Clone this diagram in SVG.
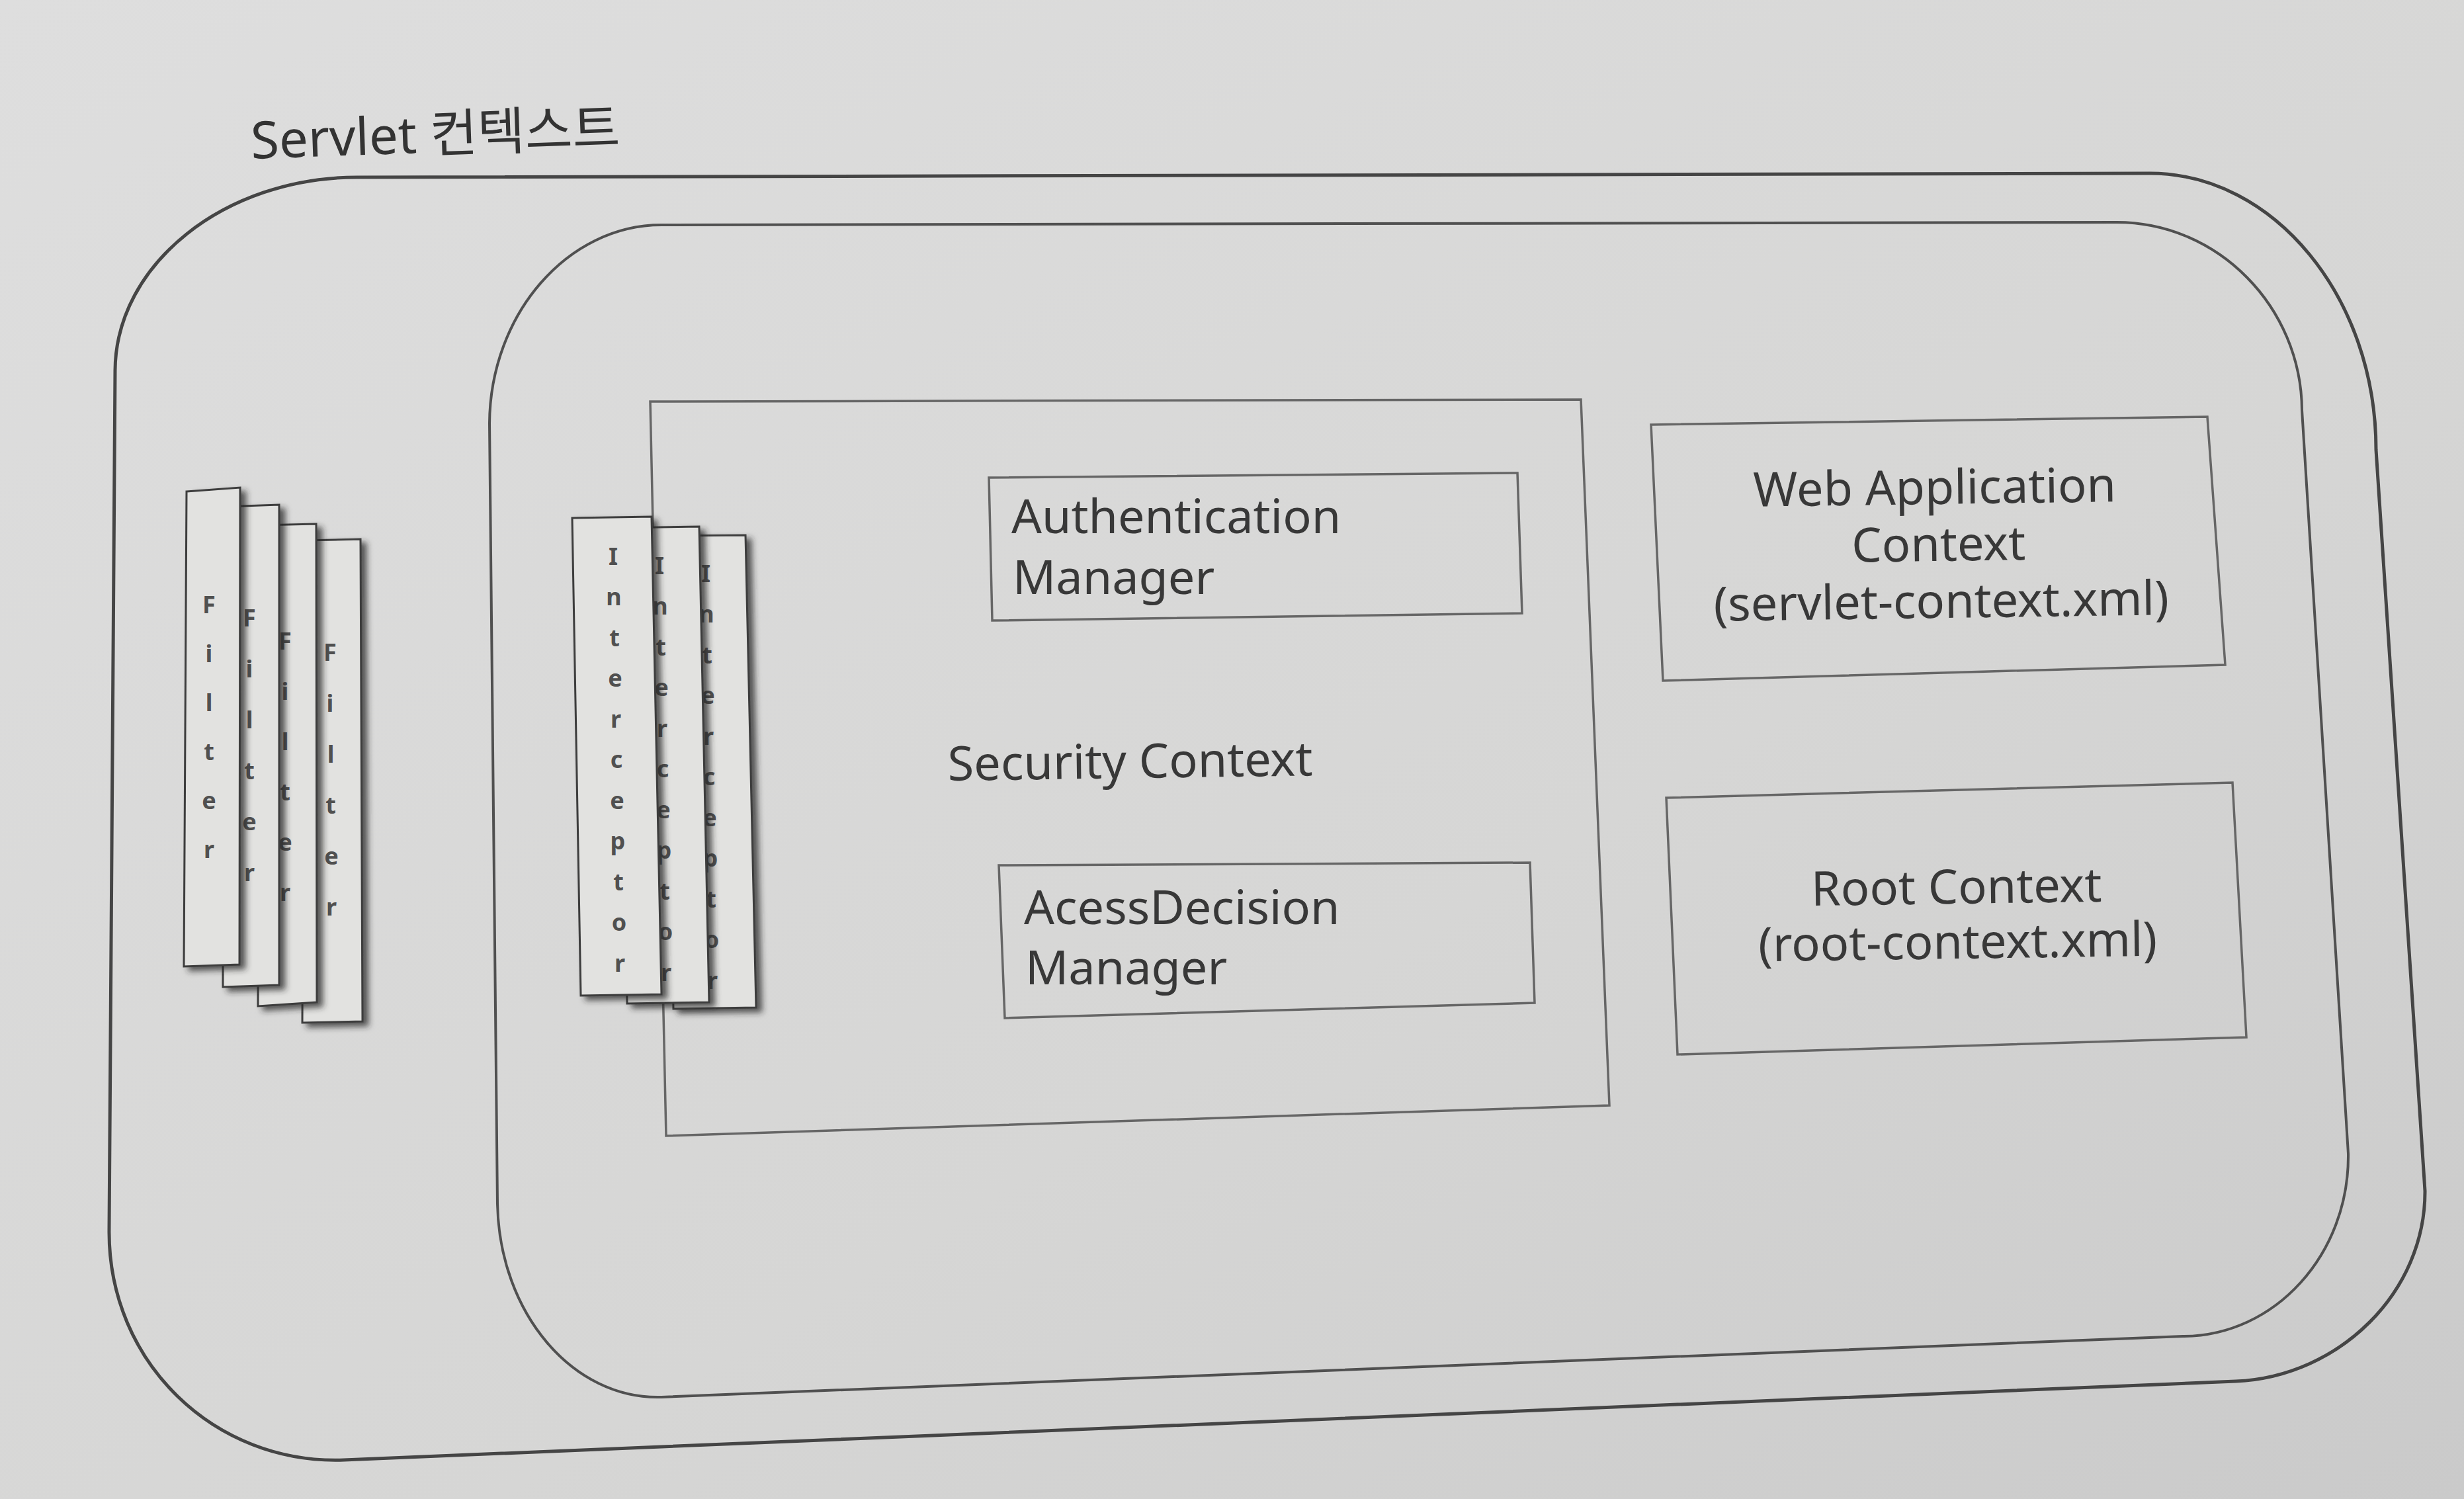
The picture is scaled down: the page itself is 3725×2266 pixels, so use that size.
<svg xmlns="http://www.w3.org/2000/svg" width="3725" height="2266" viewBox="0 0 3725 2266">
<defs>
<linearGradient id="paper" x1="0" y1="0" x2="1" y2="1">
<stop offset="0" stop-color="#dedede"/>
<stop offset="0.6" stop-color="#d6d6d5"/>
<stop offset="1" stop-color="#cacaca"/>
</linearGradient>
<filter id="shadow" x="-30%" y="-5%" width="170%" height="115%">
<feDropShadow dx="8" dy="6" stdDeviation="5" flood-color="#2a2a2a" flood-opacity="0.75"/>
</filter>
<style>
.big{fill:none;stroke:#454545;stroke-width:5}
.mid{fill:none;stroke:#505050;stroke-width:4}
.box{fill:none;stroke:#666;stroke-width:3.5}
.label{font-family:"Noto Sans","Noto Sans CJK KR",sans-serif;font-size:72px;fill:#383838}
.title{font-family:"Noto Sans","Noto Sans CJK KR",sans-serif;font-size:78px;fill:#333}
.strip{fill:#e2e2e0;stroke:#3c3c3c;stroke-width:3;filter:url(#shadow)}
.letter{font-family:"Noto Sans",sans-serif;font-size:36px;font-weight:bold;fill:#505050;text-anchor:middle}
.mid-text{text-anchor:middle}
</style>
</defs>
<rect x="0" y="0" width="3725" height="2266" fill="url(#paper)"/>

<g id="servlet-context">
<path class="big" d="M 540,268 L 3250,262 C 3438,262 3592,450 3592,680 L 3666,1800 C 3667,1952 3538,2081 3380,2088 L 520,2207 C 324,2214 163.5,2059 165,1860 L 174,560 C 175,399 340,268 540,268 Z"/>
<text class="title" x="380" y="240" transform="rotate(-2 380 240)">Servlet 컨텍스트</text>
</g>

<g id="spring-context">
<path class="mid" d="M 1000,340 L 3200,336 C 3353,336 3479,464 3480,620 L 3550,1744 C 3552,1896 3439,2020 3300,2020 L 1000,2112 C 866,2116 755,1985 752,1820 L 740,640 C 741,475 858,340 1000,340 Z"/>
</g>

<g id="security-context">
<polygon class="box" points="983,607 2390,604 2433,1671 1007,1717"/>
<text class="label" x="1433" y="1180" transform="rotate(-0.8 1433 1180)">Security Context</text>
</g>

<g id="authentication-manager">
<polygon class="box" points="1495,722 2294,715 2301,927 1500,938"/>
<text class="label" x="1529" y="806">Authentication</text>
<text class="label" x="1531" y="898">Manager</text>
</g>

<g id="access-decision-manager">
<polygon class="box" points="1510,1308 2313,1304 2320,1516 1519,1539"/>
<text class="label" x="1548" y="1397">AcessDecision</text>
<text class="label" x="1550" y="1488">Manager</text>
</g>

<g id="web-application-context">
<polygon class="box" points="2496,642 3337,630 3364,1005 2514,1029"/>
<text class="label mid-text" x="2925" y="762" transform="rotate(-0.8 2925 762)">Web Application</text>
<text class="label mid-text" x="2931" y="848" transform="rotate(-0.8 2931 848)">Context</text>
<text class="label mid-text" x="2935" y="934" transform="rotate(-0.8 2935 934)">(servlet-context.xml)</text>
</g>

<g id="root-context">
<polygon class="box" points="2519,1206 3375,1183 3396,1568 2536,1594"/>
<text class="label mid-text" x="2958" y="1366" transform="rotate(-0.8 2958 1366)">Root Context</text>
<text class="label mid-text" x="2960" y="1449" transform="rotate(-0.8 2960 1449)">(root-context.xml)</text>
</g>

<g id="filter-4">
<polygon class="strip" points="460,817 545,815 548,1544 457,1546"/>
<text class="letter" x="499" y="999">F</text><text class="letter" x="499" y="1076">i</text><text class="letter" x="500" y="1153">l</text><text class="letter" x="500" y="1230">t</text><text class="letter" x="501" y="1307">e</text><text class="letter" x="501" y="1384">r</text>
</g>
<g id="filter-3">
<polygon class="strip" points="393,794 478,792 479,1515 390,1521"/>
<text class="letter" x="431" y="982">F</text><text class="letter" x="431" y="1058">i</text><text class="letter" x="431" y="1134">l</text><text class="letter" x="431" y="1210">t</text><text class="letter" x="431" y="1286">e</text><text class="letter" x="431" y="1362">r</text>
</g>
<g id="filter-2">
<polygon class="strip" points="338,766 422,763 422,1489 337,1492"/>
<text class="letter" x="377" y="947">F</text><text class="letter" x="377" y="1024">i</text><text class="letter" x="377" y="1101">l</text><text class="letter" x="377" y="1178">t</text><text class="letter" x="377" y="1255">e</text><text class="letter" x="377" y="1332">r</text>
</g>
<g id="filter-1">
<polygon class="strip" points="282,743 363,737 362,1458 278,1461"/>
<text class="letter" x="316" y="927">F</text><text class="letter" x="316" y="1001">i</text><text class="letter" x="316" y="1075">l</text><text class="letter" x="316" y="1149">t</text><text class="letter" x="316" y="1223">e</text><text class="letter" x="316" y="1297">r</text>
</g>

<g id="interceptor-3">
<polygon class="strip" points="1005,810 1127,809 1143,1523 1018,1525"/>
<text class="letter" x="1067" y="880">I</text><text class="letter" x="1068" y="941">n</text><text class="letter" x="1069" y="1003">t</text><text class="letter" x="1070" y="1064">e</text><text class="letter" x="1071" y="1126">r</text><text class="letter" x="1072" y="1187">c</text><text class="letter" x="1073" y="1249">e</text><text class="letter" x="1074" y="1310">p</text><text class="letter" x="1075" y="1372">t</text><text class="letter" x="1076" y="1433">o</text><text class="letter" x="1077" y="1495">r</text>
</g>
<g id="interceptor-2">
<polygon class="strip" points="935,798 1057,796 1072,1515 948,1517"/>
<text class="letter" x="997" y="868">I</text><text class="letter" x="998" y="929">n</text><text class="letter" x="999" y="991">t</text><text class="letter" x="1000" y="1052">e</text><text class="letter" x="1001" y="1114">r</text><text class="letter" x="1002" y="1175">c</text><text class="letter" x="1003" y="1237">e</text><text class="letter" x="1004" y="1298">p</text><text class="letter" x="1005" y="1360">t</text><text class="letter" x="1006" y="1421">o</text><text class="letter" x="1007" y="1483">r</text>
</g>
<g id="interceptor-1">
<polygon class="strip" points="865,783 985,781 1000,1503 878,1505"/>
<text class="letter" x="927" y="854">I</text><text class="letter" x="928" y="915">n</text><text class="letter" x="929" y="977">t</text><text class="letter" x="930" y="1038">e</text><text class="letter" x="931" y="1100">r</text><text class="letter" x="932" y="1161">c</text><text class="letter" x="933" y="1223">e</text><text class="letter" x="934" y="1284">p</text><text class="letter" x="935" y="1346">t</text><text class="letter" x="936" y="1407">o</text><text class="letter" x="937" y="1469">r</text>
</g>
</svg>
